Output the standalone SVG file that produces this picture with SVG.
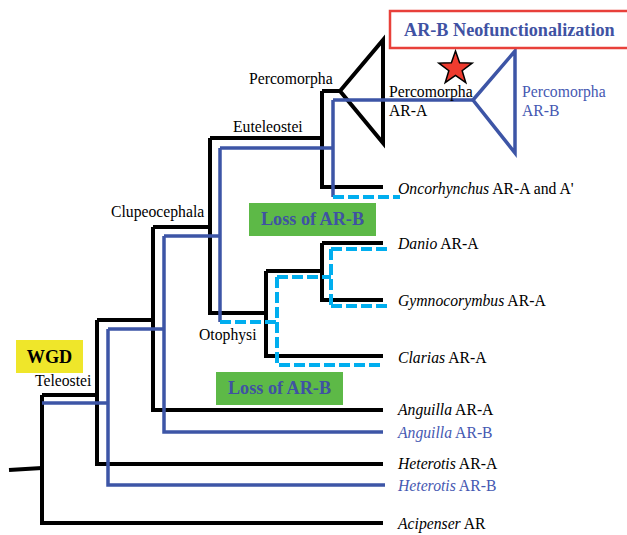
<svg xmlns="http://www.w3.org/2000/svg" width="627" height="535" viewBox="0 0 627 535">
<style>
.k{fill:none;stroke:#000;stroke-width:4;stroke-linejoin:miter}
.b{fill:none;stroke:#3d55a6;stroke-width:3.5;stroke-linejoin:miter}
.d{fill:none;stroke:#00aeef;stroke-width:4;stroke-dasharray:11 4}
text{font-family:"Liberation Serif","Times New Roman",serif;font-size:15.7px;fill:#000}
.bt{fill:#4659b2}
.dk{fill:#3f52a3}
.i{font-style:italic}
.bold{font-weight:bold;font-size:18.2px}
</style>
<rect width="627" height="535" fill="#fff"/>
<g id="connectors">
<path class="k" d="M9,470 L42,468"/>
<path class="k" d="M42,395 V523 H383 M42,395 H97 M97,320 V464 H383 M97,320 H153 M153,227 V410 H383 M153,227 H210 M210,138 V313 H266 M210,138 H322 M322,91 V187 H383 M322,91 H340 M266,271 V356 H383 M266,271 H322 M322,243 V300 H383 M322,243 H383"/>
<path class="k" d="M340,91 L383,40 V143 Z"/>
<path class="b" d="M42,403 H108 M108,329 V485 H385 M108,329 H164 M164,236 V432 H383 M164,236 H220 M220,148 V322 M220,148 H333 M333,100 V197 M333,100 H473"/>
<path class="b" d="M473,100 L515,51 V153 Z"/>
<path class="d" d="M333,197 H400 M220,322 H277 M277,277 V365 H383 M277,277 H331 M331,249 V306 M331,249 H388 M331,306 H388"/>
</g>
<g id="title">
<rect x="390" y="11" width="250" height="37" fill="#fff" stroke="#e8403a" stroke-width="2.5"/>
<text x="404" y="36" class="bold dk" font-size="18.5px">AR-B Neofunctionalization</text>
</g>
<g id="star">
<polygon points="455.5,51 459.61,62.84 472.14,63.09 462.16,70.66 465.79,82.66 455.5,75.5 445.21,82.66 448.84,70.66 438.86,63.09 451.39,62.84" fill="#ee3b2f" stroke="#000" stroke-width="1.5"/>
</g>
<g id="wgd">
<rect x="16" y="340" width="67" height="33" fill="#efe62a"/>
<text x="49.5" y="363" class="bold" text-anchor="middle" font-size="18px">WGD</text>
</g>
<g id="loss1">
<rect x="249" y="203" width="127" height="33" fill="#5db947"/>
<text x="312.5" y="225" class="bold dk" text-anchor="middle">Loss of AR-B</text>
</g>
<g id="loss2">
<rect x="216" y="372" width="127" height="33" fill="#5db947"/>
<text x="279.5" y="394" class="bold dk" text-anchor="middle">Loss of AR-B</text>
</g>
<g id="label-percomorpha"><text x="249" y="84">Percomorpha</text></g>
<g id="label-euteleostei"><text x="233" y="132">Euteleostei</text></g>
<g id="label-clupeocephala"><text x="111" y="217">Clupeocephala</text></g>
<g id="label-otophysi"><text x="199" y="340">Otophysi</text></g>
<g id="label-teleostei"><text x="35" y="386">Teleostei</text></g>
<g id="taxon-percomorpha-ara"><text x="389" y="97">Percomorpha</text><text x="389" y="116">AR-A</text></g>
<g id="taxon-percomorpha-arb"><text x="522" y="97" class="bt">Percomorpha</text><text x="522" y="116" class="bt">AR-B</text></g>
<g id="taxon-oncorhynchus"><text x="398" y="194"><tspan class="i">Oncorhynchus</tspan> AR-A and A'</text></g>
<g id="taxon-danio"><text x="398" y="249"><tspan class="i">Danio</tspan> AR-A</text></g>
<g id="taxon-gymnocorymbus"><text x="398" y="306"><tspan class="i">Gymnocorymbus</tspan> AR-A</text></g>
<g id="taxon-clarias"><text x="398" y="363"><tspan class="i">Clarias</tspan> AR-A</text></g>
<g id="taxon-anguilla-a"><text x="398" y="415"><tspan class="i">Anguilla</tspan> AR-A</text></g>
<g id="taxon-anguilla-b"><text x="398" y="438" class="bt"><tspan class="i">Anguilla</tspan> AR-B</text></g>
<g id="taxon-heterotis-a"><text x="398" y="469"><tspan class="i">Heterotis</tspan> AR-A</text></g>
<g id="taxon-heterotis-b"><text x="398" y="491" class="bt"><tspan class="i">Heterotis</tspan> AR-B</text></g>
<g id="taxon-acipenser"><text x="398" y="529"><tspan class="i">Acipenser</tspan> AR</text></g>
</svg>
